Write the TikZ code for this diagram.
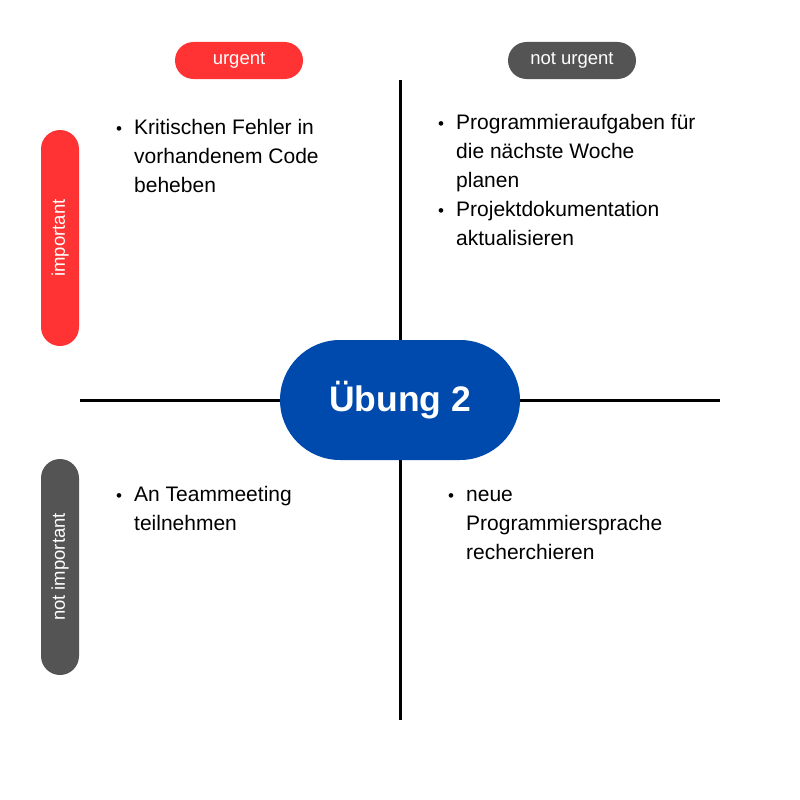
\documentclass[tikz,border=0pt]{standalone}
\usepackage{fontspec}
\setmainfont{Liberation Sans}
\definecolor{pillred}{HTML}{FF3333}
\definecolor{pillgray}{HTML}{545454}
\definecolor{hubblue}{HTML}{004AAD}
\begin{document}
\begin{tikzpicture}[x=1pt,y=-1pt,
  pill/.style={draw=none,rounded corners=18.5pt,minimum width=128pt,minimum height=37pt,inner sep=0pt,text=white,font=\fontsize{18.5}{22}\selectfont},
  vpill/.style={draw=none,rounded corners=19pt,minimum width=216pt,minimum height=38pt,inner sep=0pt,text=white,rotate=90,font=\fontsize{18.5}{22}\selectfont},
  axis/.style={line width=3pt,black},
  item/.style={anchor=base west,inner sep=0pt,font=\fontsize{21}{29}\selectfont},
  dot/.style={anchor=base,inner sep=0pt,font=\fontsize{17}{29}\selectfont}]
\useasboundingbox (0,0) rectangle (800,800);
\fill[white] (0,0) rectangle (800,800);
% axes
\coordinate (vt) at (400,80);
\coordinate (vb) at (400,720);
\coordinate (hl) at (80,400);
\coordinate (hr) at (720,400);
\draw[axis] (vt) -- (vb);
\draw[axis] (hl) -- (hr);
% header pills
\node[pill,fill=pillred] (urg) at (239,60.5) {urgent};
\node[pill,fill=pillgray] (nurg) at (572,60.5) {not urgent};
\node[vpill,fill=pillred] (imp) at (60,238) {important};
\node[vpill,fill=pillgray] (nimp) at (60,567) {not important};
% center
\node[fill=hubblue,rounded corners=60pt,minimum width=240pt,minimum height=120pt,inner sep=0pt,text=white,font=\fontsize{35.5}{40}\selectfont\bfseries] (hub) at (400,400) {Übung 2};
% quadrant texts
\node[dot] (d1) at (119,134) {•};
\node[item] (t1) at (134,134) {\begin{tabular}[t]{@{}l@{}}Kritischen Fehler in\\vorhandenem Code\\beheben\end{tabular}};
\node[dot] (d2) at (441,129) {•};
\node[item] (t2) at (456,129) {\begin{tabular}[t]{@{}l@{}}Programmieraufgaben für\\die nächste Woche\\planen\end{tabular}};
\node[dot] (d3) at (441,216) {•};
\node[item] (t3) at (456,216) {\begin{tabular}[t]{@{}l@{}}Projektdokumentation\\aktualisieren\end{tabular}};
\node[dot] (d4) at (119,501) {•};
\node[item] (t4) at (134,501) {\begin{tabular}[t]{@{}l@{}}An Teammeeting\\teilnehmen\end{tabular}};
\node[dot] (d5) at (451,501) {•};
\node[item] (t5) at (466,501) {\begin{tabular}[t]{@{}l@{}}neue\\Programmiersprache\\recherchieren\end{tabular}};
\end{tikzpicture}
\end{document}
